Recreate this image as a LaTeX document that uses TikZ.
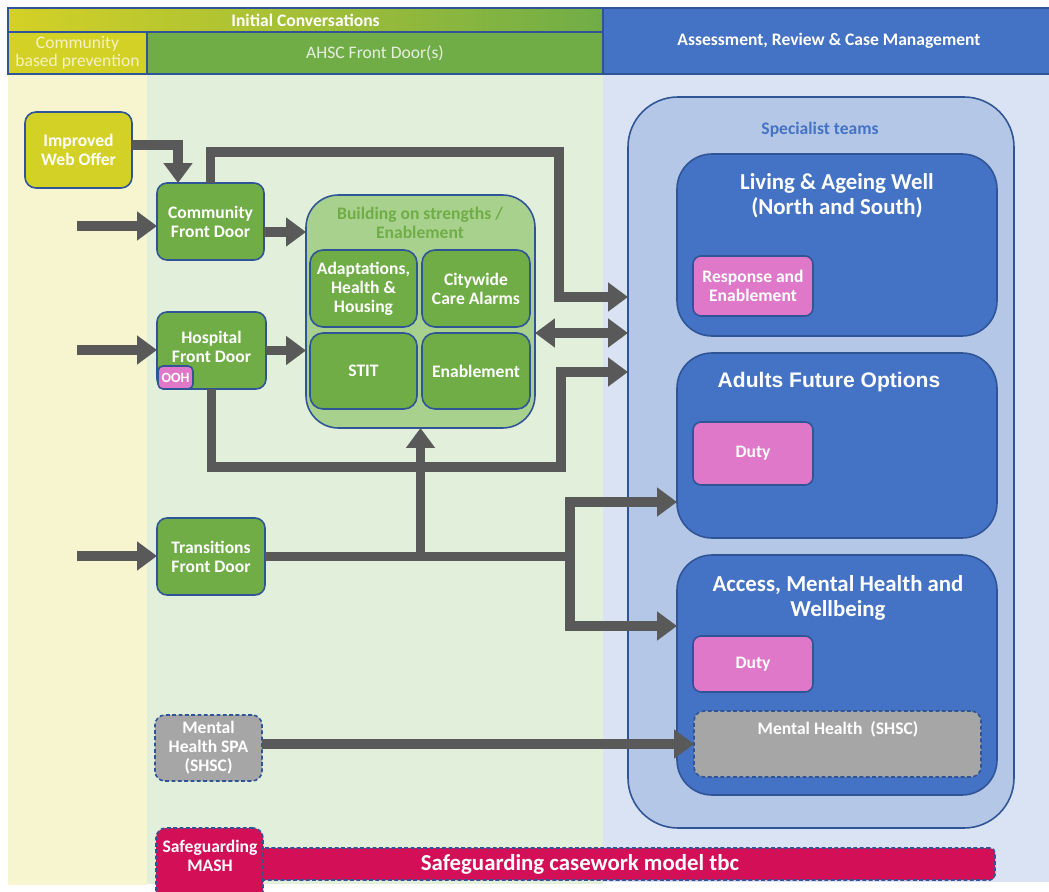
\documentclass[tikz,border=0pt]{standalone}
\usepackage{fontspec}
\setmainfont{Carlito}
\newfontfamily\arialf{Liberation Sans}
\usetikzlibrary{arrows.meta,calc}
\definecolor{bdr}{HTML}{2F5597}
\definecolor{gbox}{HTML}{70AD47}
\definecolor{gout}{HTML}{A9D18E}
\definecolor{ybox}{HTML}{D4D126}
\definecolor{ybg}{HTML}{F7F5D0}
\definecolor{gbg}{HTML}{E2EFDA}
\definecolor{bbg}{HTML}{DAE3F3}
\definecolor{bhead}{HTML}{4472C4}
\definecolor{specc}{HTML}{B4C7E7}
\definecolor{pinkb}{HTML}{DF78C8}
\definecolor{greyb}{HTML}{A6A6A6}
\definecolor{crim}{HTML}{D30F58}
\definecolor{arrc}{HTML}{595959}
\definecolor{ytxt}{HTML}{F4F1C4}
\definecolor{gtxt}{HTML}{E6EFDE}
\newcommand\pxnode[7]{\node[#6,minimum width={(#4-#2)*0.02cm},minimum height={(#5-#3)*0.02cm}] (#1) at ({(#2+#4)/2},{(#3+#5)/2}) {#7};}
\tikzset{
  bg/.style={draw=none,inner sep=0pt,outer sep=0pt},
  hdr/.style={draw=bdr,line width=1pt,inner sep=0pt,outer sep=0pt,align=center,text=white,font=\fontsize{10}{10.5}\selectfont},
  box/.style={draw=bdr,line width=0.9pt,inner sep=1pt,outer sep=0pt,align=center,text=white,font=\bfseries\fontsize{10}{10.8}\selectfont},
  gbx/.style={box,fill=gbox,rounded corners=0.2cm},
  ibx/.style={box,fill=gbox,rounded corners=0.26cm},
  pbx/.style={box,fill=pinkb,rounded corners=0.16cm},
  team/.style={box,fill=bhead,rounded corners=0.7cm},
  dsh/.style={box,dash pattern=on 2.2pt off 1.4pt},
  ttl/.style={align=center,text=white,inner sep=0pt,font=\bfseries\fontsize{13}{14.2}\selectfont},
  arr/.style={draw=arrc,line width=5.6pt,-{Triangle[length=0.4cm,width=0.56cm]}},
  darr/.style={draw=arrc,line width=5.6pt,{Triangle[length=0.4cm,width=0.56cm]}-{Triangle[length=0.4cm,width=0.56cm]}}
}
\begin{document}
\begin{tikzpicture}[x=0.02cm,y=-0.02cm]
\useasboundingbox (0,0) rectangle (1049,892);
\clip (0,0) rectangle (1049,892);
% background columns
\pxnode{bgy}{8}{74}{147}{885}{bg,fill=ybg}{}
\pxnode{bgg}{147}{74}{603}{884}{bg,fill=gbg}{}
\pxnode{bgb}{603}{74}{1049}{882}{bg,fill=bbg}{}
% headers
\pxnode{hic}{8}{8}{603}{32}{hdr,left color=ybox,right color=gbox}{\bfseries Initial Conversations}
\pxnode{hcb}{8}{32}{147}{74}{hdr,fill=ybox,text=ytxt}{Community\\based prevention}
\pxnode{hfd}{147}{32}{603}{74}{hdr,fill=gbox,text=gtxt}{AHSC Front Door(s)}
\pxnode{harc}{603}{8}{1055}{74}{hdr,fill=bhead}{\bfseries Assessment, Review \& Case Management}
% specialist teams
\pxnode{spec}{628}{97}{1014}{828}{box,fill=specc,rounded corners=1cm}{}
\node[text=bhead,font=\bfseries\fontsize{10}{11}\selectfont] (spect) at (820,130) {Specialist teams};
\pxnode{law}{677}{154}{997}{336}{team}{}
\node[ttl] (lawt) at (837,196) {Living \& Ageing Well\\(North and South)};
\pxnode{resp}{693}{256}{813}{316}{pbx}{Response and\\Enablement}
\pxnode{afo}{677}{353}{997}{538}{team}{}
\node[ttl,font=\arialf\bfseries\fontsize{12}{14}\selectfont] (afot) at (829,382) {Adults Future Options};
\pxnode{duty1}{693}{422}{813}{485}{pbx}{Duty}
\pxnode{amh}{677}{555}{997}{795}{team}{}
\node[ttl] (amht) at (838,598) {Access, Mental Health and\\Wellbeing};
\pxnode{duty2}{693}{636}{813}{692}{pbx}{Duty}
\pxnode{mhs}{694}{711}{981}{777}{box,dsh,fill=greyb,rounded corners=0.2cm}{}
\node[text=white,font=\bfseries\fontsize{10}{11}\selectfont] (mhst) at (838,729) {Mental Health\ \ (SHSC)};
% building on strengths
\pxnode{bld}{306}{195}{535}{428}{box,fill=gout,rounded corners=0.65cm}{}
\node[align=center,text=gbox,font=\bfseries\fontsize{10}{10.4}\selectfont] (bldt) at (420,223) {Building on strengths /\\Enablement};
\pxnode{adap}{310}{250}{417}{327}{ibx}{Adaptations,\\Health \&\\Housing}
\pxnode{city}{422}{250}{530}{327}{ibx}{Citywide\\Care Alarms}
\pxnode{stit}{310}{333}{417}{409}{ibx}{STIT}
\pxnode{enab}{422}{333}{530}{409}{ibx}{Enablement}
% left nodes
\pxnode{web}{25}{112}{132}{188}{box,fill=ybox,rounded corners=0.22cm}{Improved\\Web Offer}
\pxnode{cfd}{157}{183}{264}{260}{gbx}{Community\\Front Door}
\pxnode{hosp}{157}{312}{266}{389}{gbx}{}
\node[align=center,text=white,font=\bfseries\fontsize{10}{10.8}\selectfont] (hospt) at (211.5,347) {Hospital\\Front Door};
\pxnode{ooh}{158}{366}{193}{389}{box,fill=pinkb,rounded corners=0.1cm,inner sep=0pt,font=\bfseries\fontsize{8}{9}\selectfont}{OOH}
\pxnode{tfd}{157}{518}{265}{595}{gbx}{Transitions\\Front Door}
\pxnode{mhspa}{155}{715}{262}{781}{box,dsh,fill=greyb,rounded corners=0.2cm}{Mental\\Health SPA\\(SHSC)}
\pxnode{case}{165}{848}{995}{880}{box,dsh,fill=crim,rounded corners=0.1cm,font=\bfseries\fontsize{13}{14}\selectfont}{Safeguarding casework model tbc}
\pxnode{mash}{156}{828}{263}{905}{box,dsh,fill=crim,rounded corners=0.2cm}{}
\node[align=center,text=white,font=\bfseries\fontsize{10}{10.8}\selectfont] (masht) at (210,856) {Safeguarding\\MASH};
% coordinates
\coordinate (in1) at (77,226);
\coordinate (in2) at (77,350);
\coordinate (in3) at (77,556);
\coordinate (t1) at (559,152);
\coordinate (t2y) at (0,297);
\coordinate (h1) at (561,467);
\coordinate (h2y) at (0,372);
\coordinate (k1) at (570,502);
\coordinate (k2) at (570,626);
% arrows
\draw[arr] (in1) -- (in1 -| cfd.west);
\draw[arr] (in2) -- (in2 -| hosp.west);
\draw[arr] (in3) -- (in3 -| tfd.west);
\draw[arr] ([yshift=0.1cm]web.east) -| ([xshift=-0.65cm]cfd.north);
\draw[arr] ([yshift=-0.21cm]cfd.east) -- ([yshift=-0.21cm]cfd.east -| bld.west);
\draw[arr] (hosp.east) -- (hosp.east -| bld.west);
\draw[arr] (cfd.north) |- (t1) |- (spec.west |- t2y);
\draw[darr] ([yshift=-0.43cm]bld.east) -- ([yshift=-0.43cm]bld.east -| spec.west);
\draw[arr] (hosp.south) |- (h1) |- (spec.west |- h2y);
\draw[arr] (tfd.east -| bld.south) -- (bld.south);
\draw[arr] (tfd.east) -| (k1) -- (k1 -| afo.west);
\draw[arr] (tfd.east) -| (k2) -- (k2 -| amh.west);
\draw[arr] (mhspa.east |- mhs.west) -- (mhs.west);
\end{tikzpicture}
\end{document}
